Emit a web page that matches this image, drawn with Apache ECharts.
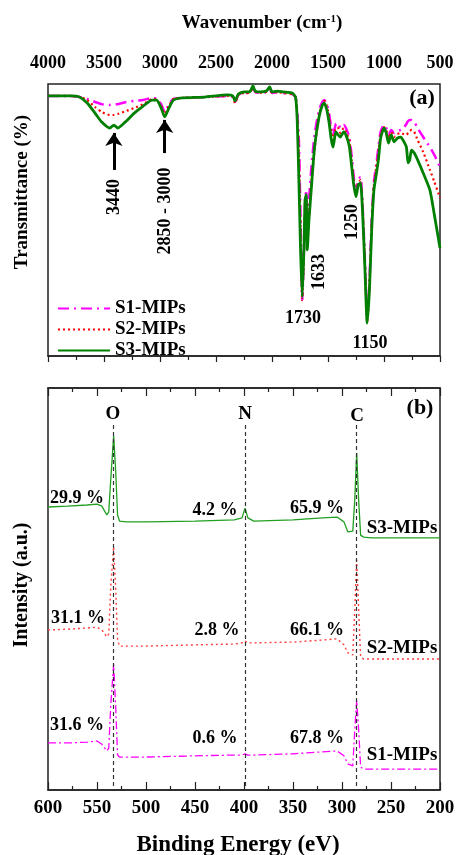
<!DOCTYPE html>
<html>
<head>
<meta charset="utf-8">
<script src="https://cdn.jsdelivr.net/npm/echarts@6/dist/echarts.min.js"></script>
<style>
html, body { margin: 0; padding: 0; background: #fff; }
#chart { width: 459px; height: 855px; }
</style>
</head>
<body>
<div id="chart"></div>
<script>
// FTIR spectra (panel a), transmittance in arbitrary %
var wavenumber = [4000, 3800, 3720, 3650, 3580, 3520, 3448, 3412, 3377, 3300,
  3230, 3150, 3070, 3030, 2990, 2958, 2920, 2880, 2800, 2600,
  2400, 2350, 2330, 2300, 2250, 2200, 2170, 2150, 2100, 2050,
  2020, 2000, 1950, 1900, 1820, 1790, 1775, 1760, 1745, 1730,
  1715, 1705, 1695, 1685, 1670, 1650, 1620, 1580, 1550, 1533,
  1510, 1490, 1470, 1455, 1430, 1410, 1390, 1360, 1340, 1310,
  1290, 1270, 1250, 1230, 1210, 1190, 1170, 1150, 1130, 1110,
  1090, 1070, 1050, 1030, 1000, 980, 960, 935, 910, 880,
  850, 825, 800, 785, 770, 755, 730, 700, 650, 590, 550, 500];
var ftirS1 = [95.6, 95.6, 95.2, 94.5, 93.4, 92.6, 92.3, 92.6, 92.6, 93.4,
  93.8, 94.1, 94.9, 94.5, 92.6, 89.7, 92.6, 94.5, 94.9, 95.2,
  95.6, 95.2, 93.4, 96.0, 96.7, 96.7, 98.5, 97.1, 96.7, 97.1,
  98.2, 96.7, 97.1, 96.7, 96.3, 95.2, 89.7, 79.4, 50.0, 20.6,
  39.0, 55.5, 61.0, 46.3, 57.3, 68.4, 81.3, 90.4, 93.4, 94.1,
  92.6, 89.0, 83.8, 81.3, 85.3, 85.7, 83.8, 84.9, 83.8, 80.5,
  73.9, 65.8, 59.9, 64.7, 65.8, 54.4, 34.6, 13.2, 27.2, 50.0,
  64.0, 70.2, 76.5, 82.4, 84.9, 83.8, 81.3, 83.1, 82.0, 82.7,
  83.1, 83.8, 85.3, 86.4, 86.8, 86.8, 86.0, 83.8, 80.5, 76.8, 73.9, 69.5];
var ftirS2 = [95.6, 95.6, 95.2, 94.1, 91.5, 89.7, 88.6, 88.6, 89.0, 90.1,
  91.2, 92.6, 94.5, 94.1, 91.9, 89.0, 91.9, 94.5, 94.9, 95.2,
  95.6, 95.2, 93.0, 96.0, 96.7, 96.7, 98.9, 97.1, 96.7, 97.1,
  98.5, 96.7, 97.1, 96.7, 96.3, 95.2, 88.6, 75.7, 46.3, 20.6,
  37.1, 53.7, 57.3, 40.8, 51.8, 62.9, 75.7, 88.6, 92.6, 93.8,
  91.9, 87.5, 82.0, 79.4, 83.8, 83.8, 82.0, 83.8, 82.4, 79.4,
  72.1, 64.7, 59.2, 63.6, 64.7, 53.7, 33.5, 12.5, 26.1, 48.2,
  62.9, 69.1, 75.0, 81.3, 84.2, 83.1, 80.1, 82.4, 80.5, 81.6,
  82.0, 81.6, 81.3, 82.0, 82.7, 83.1, 82.4, 79.4, 75.0, 68.4, 64.0, 58.1];
var ftirS3 = [95.6, 95.6, 95.2, 93.0, 89.3, 86.0, 83.8, 84.9, 83.8, 86.4,
  89.3, 91.9, 94.1, 94.1, 91.2, 87.9, 91.2, 94.1, 94.9, 95.2,
  96.0, 95.6, 93.8, 96.3, 97.1, 97.1, 99.3, 97.4, 97.1, 97.4,
  98.9, 97.1, 97.4, 97.1, 96.7, 95.2, 86.8, 64.7, 39.0, 21.7,
  39.0, 57.3, 59.2, 39.0, 50.0, 61.0, 76.8, 87.9, 92.3, 93.0,
  90.4, 85.7, 79.4, 76.8, 82.4, 81.3, 80.5, 82.4, 81.3, 77.2,
  70.2, 62.9, 58.5, 62.9, 63.6, 51.8, 31.6, 12.1, 24.3, 46.3,
  61.0, 66.5, 72.1, 80.1, 83.8, 82.0, 78.3, 81.3, 78.7, 80.1,
  80.5, 79.0, 76.8, 71.0, 72.1, 75.7, 74.6, 72.1, 67.3, 61.0, 51.8, 39.7];

// XPS survey (panel b), intensity in arbitrary units (curves offset)
var bindingEnergy = [600, 580, 560, 550, 545, 540, 538, 536, 533, 531,
  529, 527, 520, 500, 450, 410, 402, 399, 396, 390,
  350, 320, 305, 298, 294, 289, 287, 285, 283, 281,
  278, 270, 250, 200];
var xpsS1 = [11.7, 11.7, 11.9, 12.2, 11.4, 9.7, 10.4, 21.0, 31.3, 21.0,
  8.7, 8.2, 8.2, 8.2, 8.5, 8.7, 8.7, 9.0, 8.7, 8.7,
  9.0, 9.5, 9.7, 8.5, 6.5, 6.0, 14.9, 22.4, 14.9, 5.7,
  5.2, 5.2, 5.2, 5.2];
var xpsS2 = [39.8, 40.0, 40.3, 40.5, 39.8, 38.1, 38.8, 50.5, 60.5, 50.5,
  37.3, 35.8, 35.8, 35.8, 36.1, 36.3, 36.6, 37.1, 36.6, 36.6,
  36.8, 37.3, 37.6, 36.1, 34.1, 33.6, 44.8, 57.2, 44.8, 33.1,
  32.6, 32.6, 32.6, 32.6];
var xpsS3 = [70.4, 70.6, 70.9, 71.1, 70.6, 68.4, 69.2, 77.1, 88.1, 79.6,
  68.4, 66.9, 66.7, 66.7, 66.9, 67.2, 67.7, 70.1, 67.7, 66.9,
  67.2, 67.7, 67.9, 66.7, 64.2, 64.4, 72.1, 83.8, 72.1, 63.4,
  62.9, 62.7, 62.7, 62.7];

var elementLines = [533, 399, 285];   // O 1s, N 1s, C 1s
var arrowPeaks = [3412, 2958];

var font = '"Liberation Serif", "Times New Roman", serif';
var chart = echarts.init(document.getElementById('chart'));

function pairs(xs, ys) {
  return xs.map(function (x, i) { return [x, ys[i]]; });
}

function txt(x, y, text, size, rot) {
  return {
    type: 'text', x: x, y: y, rotation: rot || 0, silent: true,
    style: {
      text: text, font: 'bold ' + size + 'px ' + font, fill: '#000',
      textAlign: 'center', textVerticalAlign: 'middle',
      align: 'center', verticalAlign: 'middle'
    }
  };
}

function plain(v) { return String(v); }

var up = Math.PI / 2;
var option = {
  backgroundColor: '#fff',
  animation: false,
  legend: {
    data: ['S1-MIPs', 'S2-MIPs', 'S3-MIPs'],
    orient: 'vertical',
    left: 52,
    top: 294,
    itemWidth: 52,
    itemHeight: 12,
    itemGap: 2,
    selectedMode: false,
    itemStyle: { opacity: 0 },
    textStyle: { fontFamily: font, fontWeight: 'bold', fontSize: 19, color: '#000' }
  },
  grid: [
    { left: 48, top: 84, width: 392, height: 272, show: true, borderColor: '#222', borderWidth: 1.5, backgroundColor: 'transparent' },
    { left: 48, top: 388, width: 392, height: 402, show: true, borderColor: '#222', borderWidth: 1.5, backgroundColor: 'transparent' }
  ],
  xAxis: [{
    gridIndex: 0, type: 'value', position: 'top', inverse: true,
    min: 500, max: 4000, interval: 500,
    axisLine: { show: true, lineStyle: { color: '#222', width: 1.5 } },
    axisTick: { show: true, inside: true, length: 6, lineStyle: { color: '#222', width: 1.2 } },
    minorTick: { show: true, splitNumber: 2, length: 4, lineStyle: { color: '#222', width: 1.2 } },
    axisLabel: { margin: 12, formatter: plain, fontFamily: font, fontWeight: 'bold', fontSize: 18, color: '#000' },
    splitLine: { show: false }
  }, {
    gridIndex: 1, type: 'value', position: 'bottom', inverse: true,
    min: 200, max: 600, interval: 50,
    axisLine: { show: true, lineStyle: { color: '#222', width: 1.5 } },
    axisTick: { show: true, inside: true, length: 8, lineStyle: { color: '#222', width: 1.2 } },
    minorTick: { show: true, splitNumber: 2, length: 4, lineStyle: { color: '#222', width: 1.2 } },
    axisLabel: { margin: 9, formatter: plain, fontFamily: font, fontWeight: 'bold', fontSize: 19, color: '#000' },
    splitLine: { show: false }
  }, {
    gridIndex: 1, type: 'value', position: 'top', inverse: true,
    min: 200, max: 600, interval: 50,
    axisLine: { show: true, lineStyle: { color: '#222', width: 1.5 } },
    axisTick: { show: true, inside: true, length: 8, lineStyle: { color: '#222', width: 1.2 } },
    minorTick: { show: true, splitNumber: 2, length: 4, lineStyle: { color: '#222', width: 1.2 } },
    axisLabel: { show: false },
    splitLine: { show: false }
  }],
  yAxis: [{
    gridIndex: 0, type: 'value', min: 0, max: 100,
    axisLine: { show: false }, axisTick: { show: false }, axisLabel: { show: false }, splitLine: { show: false }
  }, {
    gridIndex: 1, type: 'value', min: 0, max: 100,
    axisLine: { show: false }, axisTick: { show: false }, axisLabel: { show: false }, splitLine: { show: false }
  }],
  graphic: [
    {
      type: 'text', x: 262, y: 23, silent: true,
      style: {
        text: '{a|Wavenumber (cm}{s|-1}{a|)}',
        textAlign: 'center', textVerticalAlign: 'middle', align: 'center', verticalAlign: 'middle',
        rich: {
          a: { font: 'bold 19px ' + font, fill: '#000', color: '#000' },
          s: { font: 'bold 11px ' + font, fill: '#000', color: '#000', verticalAlign: 'top' }
        }
      }
    },
    txt(22, 192, 'Transmittance (%)', 19, up),
    txt(22, 585, 'Intensity (a.u.)', 20, up),
    txt(238, 845, 'Binding Energy (eV)', 23),
    txt(422, 98, '(a)', 22),
    txt(114, 197, '3440', 18, up),
    txt(165, 211, '2850 - 3000', 18, up),
    txt(352, 222, '1250', 18, up),
    txt(319, 272, '1633', 18, up),
    txt(303, 318, '1730', 18),
    txt(370, 343, '1150', 18),
    txt(420, 408, '(b)', 22),
    txt(113, 414, 'O', 19),
    txt(245, 414, 'N', 19),
    txt(357, 416, 'C', 19),
    txt(77, 498, '29.9 %', 18),
    txt(215, 510, '4.2 %', 18),
    txt(317, 508, '65.9 %', 18),
    txt(402, 528, 'S3-MIPs', 19),
    txt(78, 618, '31.1 %', 18),
    txt(217, 630, '2.8 %', 18),
    txt(317, 630, '66.1 %', 18),
    txt(402, 648, 'S2-MIPs', 19),
    txt(77, 725, '31.6 %', 18),
    txt(215, 738, '0.6 %', 18),
    txt(317, 738, '67.8 %', 18),
    txt(402, 755, 'S1-MIPs', 19)
  ],
  series: [
    {
      name: 'S1-MIPs', type: 'line', xAxisIndex: 0, yAxisIndex: 0,
      data: pairs(wavenumber, ftirS1), symbol: 'none', smooth: 0.2, z: 2,
      itemStyle: { color: '#ff00ff' },
      lineStyle: { color: '#ff00ff', width: 2.5, type: [11, 5, 2, 5] }
    },
    {
      name: 'S2-MIPs', type: 'line', xAxisIndex: 0, yAxisIndex: 0,
      data: pairs(wavenumber, ftirS2), symbol: 'none', smooth: 0.2, z: 3,
      itemStyle: { color: '#ff0000' },
      lineStyle: { color: '#ff0000', width: 2.2, type: [2, 3] }
    },
    {
      name: 'S3-MIPs', type: 'line', xAxisIndex: 0, yAxisIndex: 0,
      data: pairs(wavenumber, ftirS3), symbol: 'none', smooth: 0.2, z: 4,
      itemStyle: { color: '#008000' },
      lineStyle: { color: '#008000', width: 2.8 },
      markLine: {
        silent: true, symbol: ['none', 'arrow'], symbolSize: 13, label: { show: false },
        lineStyle: { color: '#000', width: 3, type: 'solid' },
        data: [
          [{ coord: [arrowPeaks[0], 68.4] }, { coord: [arrowPeaks[0], 82.0] }],
          [{ coord: [arrowPeaks[1], 74.6] }, { coord: [arrowPeaks[1], 86.8] }]
        ]
      }
    },
    {
      name: 'S1 XPS', type: 'line', xAxisIndex: 1, yAxisIndex: 1,
      data: pairs(bindingEnergy, xpsS1), symbol: 'none', z: 2,
      lineStyle: { color: '#ff00ff', width: 1.3, type: [8, 3, 2, 3] }
    },
    {
      name: 'S2 XPS', type: 'line', xAxisIndex: 1, yAxisIndex: 1,
      data: pairs(bindingEnergy, xpsS2), symbol: 'none', z: 2,
      lineStyle: { color: '#ff4040', width: 1.4, type: [2, 3] }
    },
    {
      name: 'S3 XPS', type: 'line', xAxisIndex: 1, yAxisIndex: 1,
      data: pairs(bindingEnergy, xpsS3), symbol: 'none', z: 2,
      lineStyle: { color: '#22a022', width: 1.3 },
      markLine: {
        silent: true, symbol: 'none', label: { show: false },
        lineStyle: { color: '#333', width: 1.2, type: [4, 3] },
        data: elementLines.map(function (be) {
          return [{ coord: [be, 90.8] }, { coord: [be, 0] }];
        })
      }
    }
  ]
};
chart.setOption(option);
</script>
</body>
</html>
